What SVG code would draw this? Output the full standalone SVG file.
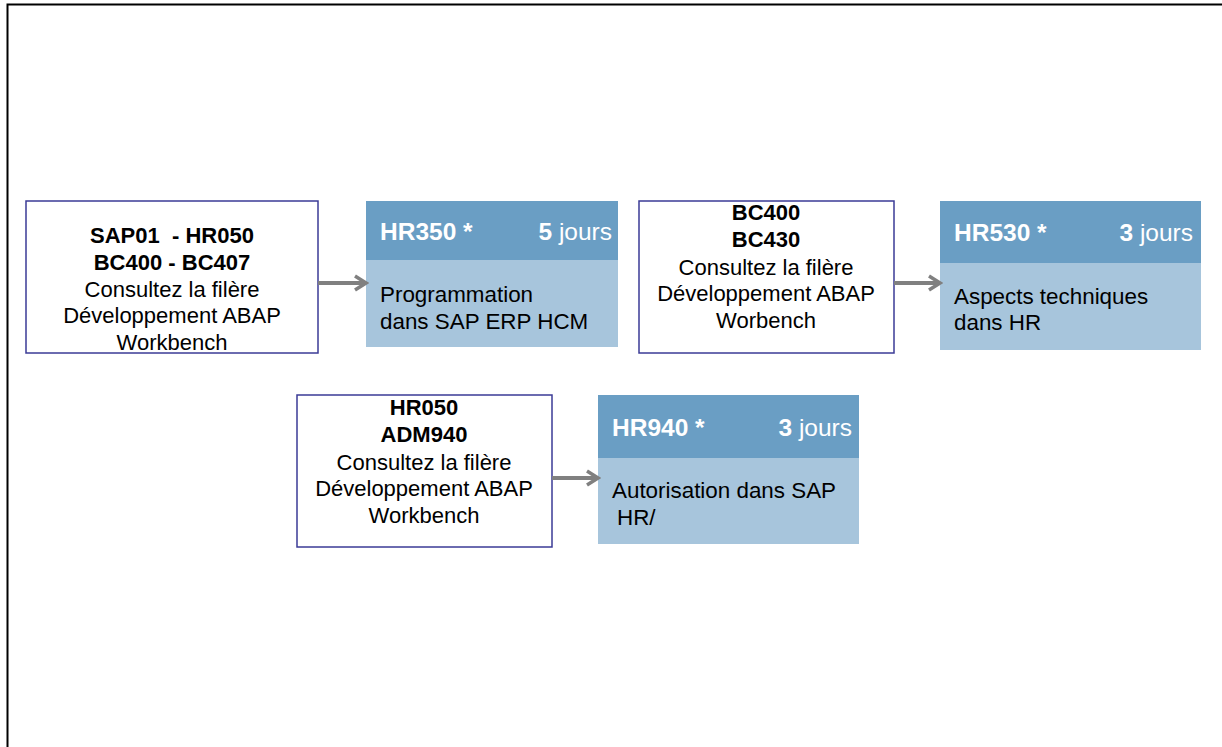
<svg xmlns="http://www.w3.org/2000/svg" width="1222" height="747" viewBox="0 0 1222 747">
<defs>
<style>
.pre{fill:#ffffff;stroke:#3b3b96;stroke-width:1.5}
.hd{fill:#6a9ec4}
.bd{fill:#a7c5dc}
.t{font-family:"Liberation Sans",Arial,sans-serif;font-size:22px;fill:#000}
.s{font-size:22.4px}
.b{font-weight:bold}
.w{fill:#ffffff;font-family:"Liberation Sans",Arial,sans-serif;font-size:24.5px}
.c{text-anchor:middle}
.conn{stroke:#808080;stroke-width:4;fill:none}
</style>
<marker id="ah" markerWidth="16" markerHeight="18" refX="13" refY="9" orient="auto" markerUnits="userSpaceOnUse" viewBox="0 0 16 18">
<path d="M2,2 L13,9 L2,16" fill="none" stroke="#808080" stroke-width="3.5"/>
</marker>
</defs>
<rect width="1222" height="747" fill="#ffffff"/>
<path d="M7.5,747 V4.5 H1222" fill="none" stroke="#000" stroke-width="2"/>

<g id="pre1">
<rect class="pre" x="26" y="201" width="292" height="152"/>
<text class="t b c" x="172" y="243" xml:space="preserve">SAP01  - HR050</text>
<text class="t b c" x="172" y="270">BC400 - BC407</text>
<text class="t c" x="172" y="297">Consultez la filère</text>
<text class="t c" x="172" y="323">Développement ABAP</text>
<text class="t c" x="172" y="350">Workbench</text>
</g>

<g id="hr350">
<rect class="bd" x="366" y="201" width="252" height="146"/>
<rect class="hd" x="366" y="201" width="252" height="59"/>
<text class="w b" x="380" y="240">HR350 *</text>
<text class="w" x="612" y="240" text-anchor="end"><tspan font-weight="bold">5</tspan> jours</text>
<text class="t s" x="380" y="302">Programmation</text>
<text class="t s" x="380" y="329">dans SAP ERP HCM</text>
</g>

<g id="pre2">
<rect class="pre" x="639" y="201" width="255" height="152"/>
<text class="t b c" x="766" y="220">BC400</text>
<text class="t b c" x="766" y="247">BC430</text>
<text class="t c" x="766" y="275">Consultez la filère</text>
<text class="t c" x="766" y="301">Développement ABAP</text>
<text class="t c" x="766" y="328">Worbench</text>
</g>

<g id="hr530">
<rect class="bd" x="940" y="201" width="261" height="149"/>
<rect class="hd" x="940" y="201" width="261" height="62"/>
<text class="w b" x="954" y="241">HR530 *</text>
<text class="w" x="1193" y="241" text-anchor="end"><tspan font-weight="bold">3</tspan> jours</text>
<text class="t s" x="954" y="304">Aspects techniques</text>
<text class="t s" x="954" y="330">dans HR</text>
</g>

<g id="pre3">
<rect class="pre" x="297" y="395" width="255" height="152"/>
<text class="t b c" x="424" y="415">HR050</text>
<text class="t b c" x="424" y="442">ADM940</text>
<text class="t c" x="424" y="470">Consultez la filère</text>
<text class="t c" x="424" y="496">Développement ABAP</text>
<text class="t c" x="424" y="523">Workbench</text>
</g>

<g id="hr940">
<rect class="bd" x="598" y="395" width="261" height="149"/>
<rect class="hd" x="598" y="395" width="261" height="63"/>
<text class="w b" x="612" y="436">HR940 *</text>
<text class="w" x="852" y="436" text-anchor="end"><tspan font-weight="bold">3</tspan> jours</text>
<text class="t s" x="612" y="498">Autorisation dans SAP</text>
<text class="t s" x="617" y="525">HR/</text>
</g>

<g id="connectors">
<line class="conn" x1="318" y1="283" x2="366" y2="283" marker-end="url(#ah)"/>
<line class="conn" x1="894" y1="283" x2="940" y2="283" marker-end="url(#ah)"/>
<line class="conn" x1="552" y1="478" x2="598" y2="478" marker-end="url(#ah)"/>
</g>
</svg>
